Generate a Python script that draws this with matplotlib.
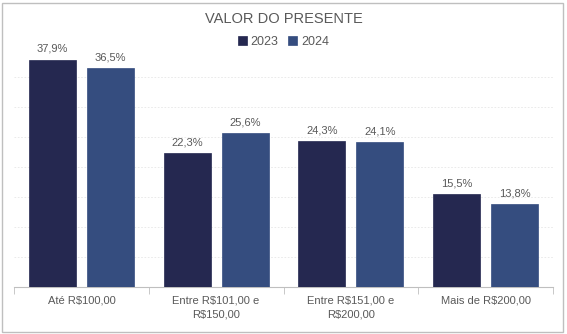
import matplotlib
matplotlib.use("Agg")
import matplotlib.pyplot as plt
import numpy as np

categories = ["Até R$100,00", "Entre R$101,00 e\nR$150,00", "Entre R$151,00 e\nR$200,00", "Mais de R$200,00"]
years = ["2023", "2024"]
v2023 = [37.9, 22.3, 24.3, 15.5]
v2024 = [36.5, 25.6, 24.1, 13.8]

colors = ["#252850", "#354D7F"]
gray = "#595959"

plt.rcParams["font.family"] = ["Liberation Sans", "DejaVu Sans"]

fig = plt.figure(figsize=(5.67, 3.34), dpi=100)
ax = fig.add_axes([14 / 567, 47 / 334, (553 - 14) / 567, (287 - 47) / 334])

x = np.arange(len(categories))
w = 0.35
off = 0.215
for i, (vals, c, lab) in enumerate(zip([v2023, v2024], colors, years)):
    bars = ax.bar(x + (off if i else -off), vals, w, color=c, label=lab,
                  edgecolor=c, linewidth=0.5, zorder=3)
    for b, v in zip(bars, vals):
        ax.text(b.get_x() + b.get_width() / 2, v + 1.0, f"{v:.1f}%".replace(".", ","),
                ha="center", va="bottom", fontsize=8, color=gray)

ax.set_xlim(-0.5, len(categories) - 0.5)
ax.set_ylim(0, 40)
ax.set_yticks(np.arange(5, 40, 5))
ax.yaxis.grid(True, color="#e6e6e6", linestyle=(0, (2, 2)), linewidth=0.6, zorder=0)
ax.tick_params(axis="y", left=False, labelleft=False)
for s in ["top", "right", "left"]:
    ax.spines[s].set_visible(False)
ax.spines["bottom"].set_color("#bfbfbf")

ax.set_xticks(x)
ax.set_xticklabels(categories, fontsize=8, color=gray, linespacing=1.5)
ax.tick_params(axis="x", length=0, pad=6)
ax.set_xticks(np.arange(-0.5, len(categories), 1), minor=True)
ax.tick_params(axis="x", which="minor", length=5, color="#bfbfbf")

fig.text(0.5, 1 - 19 / 334, "VALOR DO PRESENTE", ha="center", va="center",
         fontsize=10.5, color=gray)
fig.legend(loc="center", bbox_to_anchor=(0.5, 1 - 42 / 334), ncol=2, frameon=False,
           fontsize=9, labelcolor=gray, handlelength=0.7, handleheight=0.7,
           handletextpad=0.3, columnspacing=0.8)

border = plt.Rectangle((2 / 567, 2 / 334), 561 / 567, 329 / 334, transform=fig.transFigure,
                       fill=False, edgecolor="#bfbfbf", linewidth=1)
fig.patches.append(border)

fig.savefig("out.png", dpi=100)
